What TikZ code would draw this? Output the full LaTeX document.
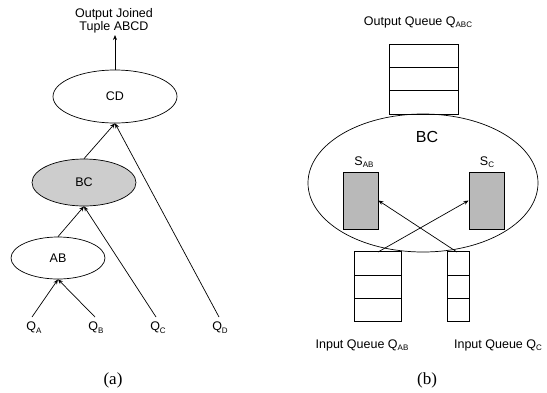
\documentclass[tikz,border=0pt]{standalone}
\usepackage{fontspec}
\setmainfont{Liberation Serif}
\newfontfamily\arialfont{Liberation Sans}
\usetikzlibrary{shapes.geometric,arrows.meta}
\definecolor{joingray}{RGB}{205,205,205}
\definecolor{stategray}{RGB}{185,185,185}
\newcommand{\sbt}[1]{\raisebox{-0.4ex}{\fontsize{8}{9}\selectfont #1}}
\tikzset{
  lbl/.style={font=\arialfont\fontsize{12.5}{13.5}\selectfont, inner sep=0pt},
  op/.style={draw, ellipse, line width=0.7pt, inner sep=0pt, font=\arialfont\fontsize{12.5}{13.5}\selectfont},
  edge/.style={line width=0.7pt, -{Stealth[length=5pt,width=4pt]}},
  cell/.style={draw, line width=0.8pt, rectangle, inner sep=0pt},
  state/.style={draw, line width=0.8pt, fill=stategray, rectangle, inner sep=0pt, minimum width=35pt, minimum height=57pt},
  subcap/.style={font=\fontsize{17}{19}\selectfont, inner sep=0pt}
}
\begin{document}
\begin{tikzpicture}[x=1pt, y=-1pt]
\useasboundingbox (0,0) rectangle (547,392);

% ---- (a) join tree ----
\node[lbl, align=center] (out) at (114,21) {Output Joined\\Tuple ABCD};
\coordinate (outtip) at (115,35);
\node[op, minimum width=124pt, minimum height=53pt] (CD) at (115,96.5) {CD};
\node[op, fill=joingray, minimum width=104pt, minimum height=47pt] (BC) at (84,182.5) {BC};
\node[op, minimum width=94pt, minimum height=42pt] (AB) at (58,258) {AB};

\node[lbl, anchor=north] (QA) at (34,322) {Q\sbt{A}};
\node[lbl, anchor=north] (QB) at (96,322) {Q\sbt{B}};
\node[lbl, anchor=north] (QC) at (158,322) {Q\sbt{C}};
\node[lbl, anchor=north] (QD) at (220,322) {Q\sbt{D}};
\coordinate (qa) at (32,317);
\coordinate (qb) at (95,317);
\coordinate (qc) at (156,317);
\coordinate (qd) at (219,317);

\draw[edge] (CD.north) -- (outtip);
\draw[edge] (qa) -- (AB.south);
\draw[edge] (qb) -- (AB.south);
\draw[edge] (AB.north) -- (BC.south);
\draw[edge] (qc) -- (BC.south);
\draw[edge] (BC.north) -- (CD.south);
\draw[edge] (qd) -- (CD.south);

\node[subcap] (capa) at (113,380) {(a)};

% ---- (b) operator BC with its queues and states ----
\node[lbl] (outq) at (418,22) {Output Queue Q\sbt{ABC}};
\foreach \i/\y in {1/55.7, 2/79.0, 3/102.3}
  \node[cell, minimum width=69pt, minimum height=23.3pt] (oq\i) at (423.5,\y) {};

\node[draw, ellipse, line width=0.7pt, minimum width=230pt, minimum height=138pt, inner sep=0pt] (bcop) at (423,183) {};
\node[font=\arialfont\fontsize{16}{17}\selectfont, inner sep=0pt] (bclbl) at (427,137) {BC};

\node[state] (sab) at (360.5,200.5) {};
\node[state] (sc) at (486.5,200.5) {};
\node[lbl, anchor=south] (sablbl) at (364,168) {S\sbt{AB}};
\node[lbl, anchor=south] (sclbl) at (487,168) {S\sbt{C}};

\foreach \i/\y in {1/263.3, 2/286.5, 3/309.5}
  \node[cell, minimum width=47pt, minimum height=23.2pt] (iab\i) at (377.5,\y) {};
\foreach \i/\y in {1/263.3, 2/286.5, 3/309.5}
  \node[cell, minimum width=22pt, minimum height=23.2pt] (ic\i) at (458,\y) {};

\coordinate (iabtop) at (378,252);
\coordinate (ictop) at (457,252);
\draw[edge] (iabtop) -- (sc.west);
\draw[edge] (ictop) -- (sab.east);

\node[lbl] (inab) at (362,345) {Input Queue Q\sbt{AB}};
\node[lbl] (inc) at (498,345) {Input Queue Q\sbt{C}};

\node[subcap] (capb) at (427,380) {(b)};
\end{tikzpicture}
\end{document}
